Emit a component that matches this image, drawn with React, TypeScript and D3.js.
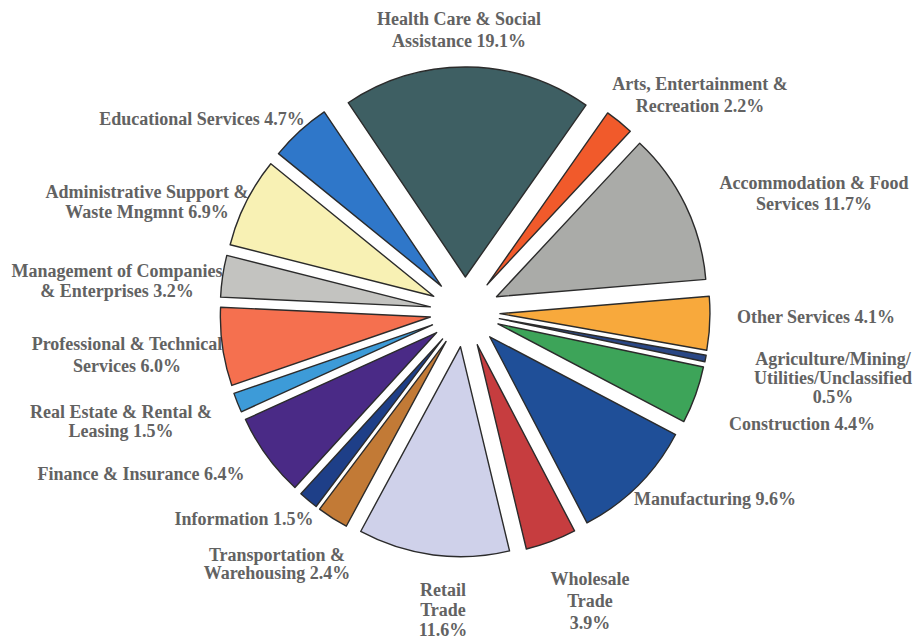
import React from "react";
import * as d3 from "d3";

const categories = [
  "Health Care & Social Assistance",
  "Arts, Entertainment & Recreation",
  "Accommodation & Food Services",
  "Other Services",
  "Agriculture/Mining/Utilities/Unclassified",
  "Construction",
  "Manufacturing",
  "Wholesale Trade",
  "Retail Trade",
  "Transportation & Warehousing",
  "Information",
  "Finance & Insurance",
  "Real Estate & Rental & Leasing",
  "Professional & Technical Services",
  "Management of Companies & Enterprises",
  "Administrative Support & Waste Mngmnt",
  "Educational Services",
];

const shares = [19.1, 2.2, 11.7, 4.1, 0.5, 4.4, 9.6, 3.9, 11.6, 2.4, 1.5, 6.4, 1.5, 6.0, 3.2, 6.9, 4.7];

// label text lines; the share is appended to the last line ("" = share on its own line)
const labelLines = [
  ["Health Care & Social", "Assistance"],
  ["Arts, Entertainment &", "Recreation"],
  ["Accommodation & Food", "Services"],
  ["Other Services"],
  ["Agriculture/Mining/", "Utilities/Unclassified", ""],
  ["Construction"],
  ["Manufacturing"],
  ["Wholesale", "Trade", ""],
  ["Retail", "Trade", ""],
  ["Transportation &", "Warehousing"],
  ["Information"],
  ["Finance & Insurance"],
  ["Real Estate & Rental &", "Leasing"],
  ["Professional & Technical", "Services"],
  ["Management of Companies", "& Enterprises"],
  ["Administrative Support &", "Waste Mngmnt"],
  ["Educational Services"],
];

const colors = [
  "#3e5f63", "#f15a2b", "#aaaba8", "#f8a93c", "#2a4785", "#3da459",
  "#1f4f98", "#c63d3f", "#cfd1ea", "#c27a36", "#1e3f88", "#4a2a86",
  "#3d9bd8", "#f5704f", "#c3c3c0", "#f8f1b4", "#2f77c9",
];

// label anchor layout: [centerX, firstBaseline, lineHeight]
const labelLayout: [number, number, number][] = [
  [459, 25, 22],
  [700, 90, 22],
  [814, 189, 21],
  [816, 323, 20],
  [833, 365, 19],
  [802, 430, 20],
  [715, 505, 20],
  [590, 585, 22],
  [443, 596, 20],
  [277, 561, 18],
  [244, 525, 20],
  [141, 480, 20],
  [121, 418, 19],
  [127, 350, 22],
  [117, 277, 20],
  [147, 198, 20],
  [202, 125, 20],
];

const W = 921;
const H = 639;
const CX = 465;
const CY = 312;
const R = 210;
const EXPLODE = 35;

export default function App() {
  const total = d3.sum(shares);
  const start = -Math.PI * (shares[0] / total) + 0.01;
  const pie = d3
    .pie<number>()
    .sort(null)
    .value((d) => d)
    .startAngle(start)
    .endAngle(start + 2 * Math.PI);
  const arcs = pie(shares);
  const arc = d3.arc<d3.PieArcDatum<number>>().innerRadius(0).outerRadius(R);

  return (
    <svg
      width={W}
      height={H}
      style={{ position: "absolute", left: 0, top: 0, background: "#fff" }}
    >
      <g
        fontFamily="'Liberation Serif', 'Times New Roman', serif"
        fontSize={18}
        fontWeight="bold"
        fill="#626262"
        textAnchor="middle"
      >
        {labelLines.map((lines, i) => {
          const [x, y, lh] = labelLayout[i];
          const pct = `${shares[i].toFixed(1)}%`;
          const texts = lines.map((l, j) =>
            j === lines.length - 1 ? (l ? `${l} ${pct}` : pct) : l
          );
          return (
            <text key={categories[i]} x={x} y={y}>
              {texts.map((t, j) => (
                <tspan key={j} x={x} y={y + j * lh}>
                  {t}
                </tspan>
              ))}
            </text>
          );
        })}
      </g>
      <g transform={`translate(${CX},${CY})`}>
        {arcs.map((a, i) => {
          const mid = (a.startAngle + a.endAngle) / 2;
          const dx = Math.sin(mid) * EXPLODE;
          const dy = -Math.cos(mid) * EXPLODE;
          return (
            <path
              key={i}
              d={arc(a) || ""}
              transform={`translate(${dx},${dy})`}
              fill={colors[i]}
              stroke="#2b2b2b"
              strokeWidth={1.4}
              strokeLinejoin="round"
            />
          );
        })}
      </g>
    </svg>
  );
}
